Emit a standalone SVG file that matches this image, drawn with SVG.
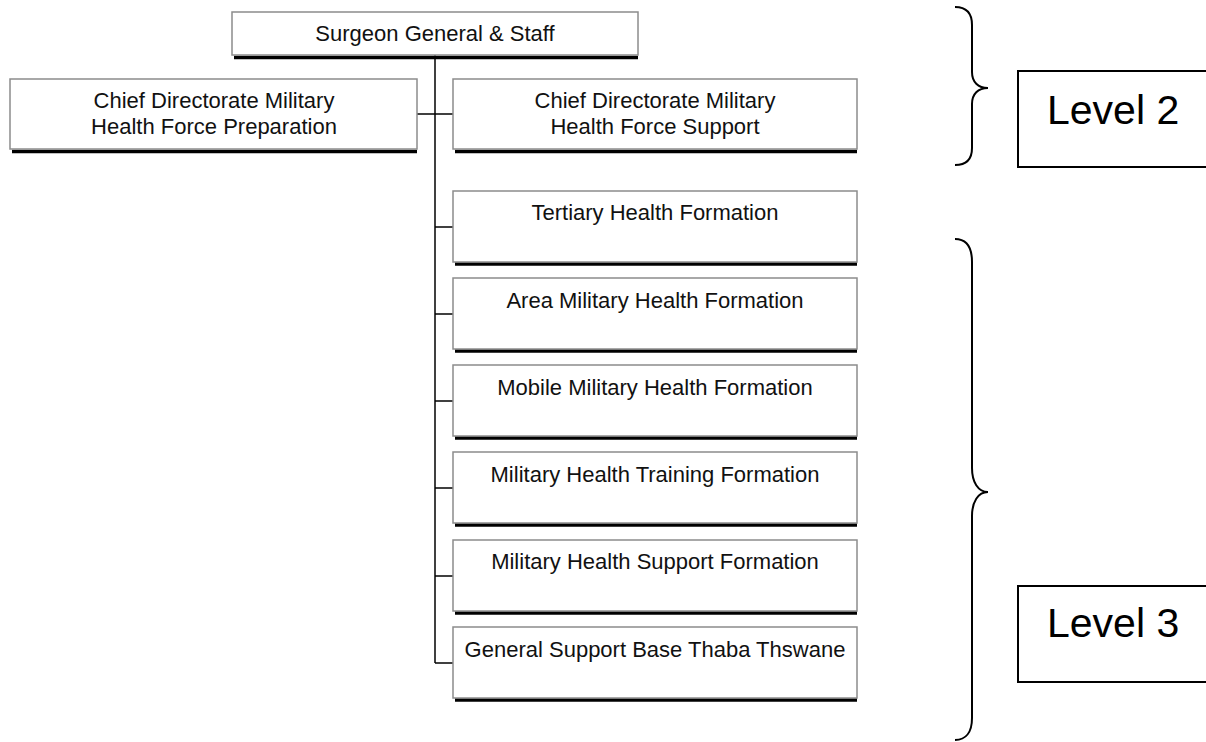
<svg xmlns="http://www.w3.org/2000/svg" width="1206" height="742" viewBox="0 0 1206 742">
  <style>
    .box { fill: #ffffff; stroke: #8c8c8c; stroke-width: 1.5; }
    .shadow { stroke: #000000; stroke-width: 3.5; fill: none; }
    .lbl { font-family: "Liberation Sans", Arial, sans-serif; font-size: 22px; fill: #111111; text-anchor: middle; }
    .conn { stroke: #000000; stroke-width: 1.5; fill: none; }
    .brace { stroke: #000000; stroke-width: 2; fill: none; }
    .lvl { fill: #ffffff; stroke: #000000; stroke-width: 2; }
    .lvltxt { font-family: "Liberation Sans", Arial, sans-serif; font-size: 41px; fill: #000000; }
  </style>
  <rect width="1206" height="742" fill="#ffffff"/>

  <!-- connectors -->
  <g id="connectors">
    <path class="conn" d="M435,55 V663"/>
    <path class="conn" d="M417,114 H453"/>
    <path class="conn" d="M435,227 H453"/>
    <path class="conn" d="M435,314 H453"/>
    <path class="conn" d="M435,401 H453"/>
    <path class="conn" d="M435,488 H453"/>
    <path class="conn" d="M435,576 H453"/>
    <path class="conn" d="M435,663 H453"/>
  </g>

  <g id="surgeon-general">
    <path class="shadow" d="M234,57.5 H638"/>
    <rect class="box" x="232" y="12" width="406" height="43"/>
    <text class="lbl" x="435" y="41">Surgeon General &amp; Staff</text>
  </g>

  <g id="cd-preparation">
    <path class="shadow" d="M12,151.5 H417"/>
    <rect class="box" x="10" y="79" width="407" height="70"/>
    <text class="lbl" x="214" y="107.5">Chief Directorate Military</text>
    <text class="lbl" x="214" y="134">Health Force Preparation</text>
  </g>

  <g id="cd-support">
    <path class="shadow" d="M455,151.5 H857"/>
    <rect class="box" x="453" y="79" width="404" height="70"/>
    <text class="lbl" x="655" y="107.5">Chief Directorate Military</text>
    <text class="lbl" x="655" y="134">Health Force Support</text>
  </g>

  <g id="tertiary">
    <path class="shadow" d="M455,264 H857"/>
    <rect class="box" x="453" y="191" width="404" height="71"/>
    <text class="lbl" x="655" y="220">Tertiary Health Formation</text>
  </g>

  <g id="area">
    <path class="shadow" d="M455,351 H857"/>
    <rect class="box" x="453" y="278" width="404" height="71"/>
    <text class="lbl" x="655" y="307.5">Area Military Health Formation</text>
  </g>

  <g id="mobile">
    <path class="shadow" d="M455,438 H857"/>
    <rect class="box" x="453" y="365" width="404" height="71"/>
    <text class="lbl" x="655" y="394.5">Mobile Military Health Formation</text>
  </g>

  <g id="training">
    <path class="shadow" d="M455,525 H857"/>
    <rect class="box" x="453" y="452" width="404" height="71"/>
    <text class="lbl" x="655" y="481.5">Military Health Training Formation</text>
  </g>

  <g id="health-support">
    <path class="shadow" d="M455,613 H857"/>
    <rect class="box" x="453" y="540" width="404" height="71"/>
    <text class="lbl" x="655" y="569">Military Health Support Formation</text>
  </g>

  <g id="gsb-thaba-tshwane">
    <path class="shadow" d="M455,700 H857"/>
    <rect class="box" x="453" y="627" width="404" height="71"/>
    <text class="lbl" x="655" y="656.5">General Support Base Thaba Thswane</text>
  </g>

  <!-- level brackets and tags -->
  <g id="level-2">
    <path class="brace" d="M955,7 C966,7 972,13 972,25 L972,72 C972,82 978,88 988,88 C978,88 972,94 972,104 L972,148 C972,160 966,165 955,165"/>
    <rect class="lvl" x="1018" y="71" width="200" height="96"/>
    <text class="lvltxt" x="1047" y="124">Level 2</text>
  </g>

  <g id="level-3">
    <path class="brace" d="M955,239 C966,239 972,247 972,262 L972,468 C972,482 978,492 988,492 C978,492 972,502 972,516 L972,718 C972,732 966,740 955,740"/>
    <rect class="lvl" x="1018" y="586" width="200" height="96"/>
    <text class="lvltxt" x="1047" y="637">Level 3</text>
  </g>
</svg>
